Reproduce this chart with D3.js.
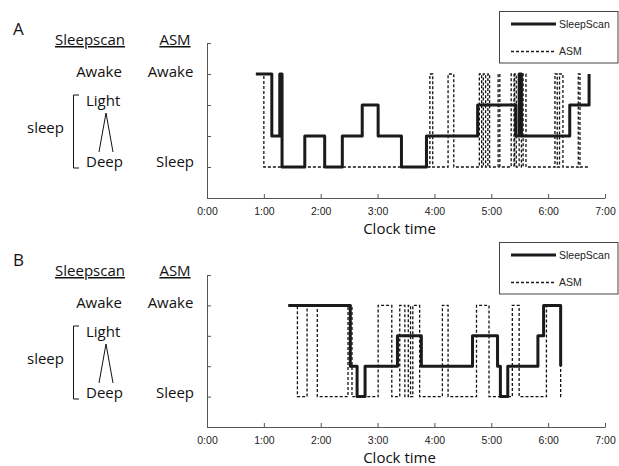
<!DOCTYPE html>
<html>
<head>
<meta charset="utf-8">
<script src="https://cdn.jsdelivr.net/npm/d3@7"></script>
<style>
	body { margin: 0; background: #fff; }
	svg { display: block; }
</style>
</head>
<body>
<div id="chart"></div>
<script>

// hours after 0:00, state level: 4 awake, 3 light, 2 lighter-deep, 1 deep / sleep
const hourTicks = ['0:00', '1:00', '2:00', '3:00', '4:00', '5:00', '6:00', '7:00'];
const stateTicks = [0, 1, 2, 3, 4, 5];

const sleepscanA = [[0.86, 4], [1.14, 2], [1.28, 4], [1.32, 1], [1.72, 2], [2.07, 1], [2.38, 2], [2.73, 3],
	[3.01, 2], [3.42, 1], [3.86, 2], [4.76, 3], [5.43, 2], [5.49, 4], [5.53, 2], [6.38, 3], [6.72, 4]];
const asmA = [[0.86, 4], [1.00, 1], [3.92, 4], [3.97, 1], [4.24, 4], [4.34, 1], [4.79, 4], [4.83, 1],
	[4.86, 4], [4.90, 1], [4.94, 4], [4.97, 1], [5.12, 4], [5.15, 1], [5.35, 4], [5.40, 1], [5.41, 4],
	[5.44, 1], [5.49, 4], [5.53, 1], [5.56, 4], [5.61, 1], [6.12, 4], [6.16, 1], [6.20, 4], [6.26, 1],
	[6.53, 4], [6.56, 1], [6.70, 1]];

const sleepscanB = [[1.43, 4], [2.52, 2], [2.64, 1], [2.78, 2], [3.35, 3], [3.77, 2], [4.67, 3], [5.11, 2],
	[5.16, 1], [5.29, 2], [5.82, 3], [5.92, 4], [6.22, 2]];
const asmB = [[1.43, 4], [1.59, 1], [1.76, 4], [1.94, 1], [2.48, 4], [2.55, 1], [3.01, 4], [3.25, 1],
	[3.39, 4], [3.48, 1], [3.54, 4], [3.58, 1], [3.62, 4], [3.74, 1], [4.14, 4], [4.24, 1], [4.74, 4],
	[4.96, 1], [5.37, 4], [5.49, 1], [5.97, 4], [6.22, 1], [6.23, 1]];

const legendNames = ['SleepScan', 'ASM'];

const panels = [
	{ name: 'A', top: 0, yRange: [198, 43], sleepscan: sleepscanA, asm: asmA },
	{ name: 'B', top: 231, yRange: [427, 275], sleepscan: sleepscanB, asm: asmB }
];

const svg = d3.select('#chart')
	.append('svg')
		.attr('width', 619)
		.attr('height', 466);

const x = d3.scaleLinear()
	.domain([0, 7])
	.range([207, 605]);

const labelFont = '"Open Sans", "Noto Sans", sans-serif';
const axisFont = '"Liberation Sans", Arial, sans-serif';

panels.forEach(function(p) {
	drawPanel(p);
});


function drawPanel(p) {

	let y = d3.scaleLinear()
		.domain([0, 5])
		.range(p.yRange);

	let g = svg.append('g');

	// axes
	let xAxis = d3.axisBottom(x)
		.tickValues(d3.range(0, 8))
		.tickFormat(function(i) { return hourTicks[i]; })
		.tickSizeInner(-4)
		.tickSizeOuter(0)
		.tickPadding(10);

	let yAxis = d3.axisLeft(y)
		.tickValues(stateTicks)
		.tickFormat('')
		.tickSizeInner(-4)
		.tickSizeOuter(0);

	let gx = g.append('g')
		.attr('transform', `translate(0, ${y(0)})`)
		.call(xAxis);

	let gy = g.append('g')
		.attr('transform', `translate(${x(0)}, 0)`)
		.call(yAxis);

	[gx, gy].forEach(function(a) {
		a.select('.domain').attr('stroke', '#555');
		a.selectAll('.tick line').attr('stroke', '#555');
	});

	gx.selectAll('.tick text')
		.attr('fill', '#222')
		.style('font-family', axisFont)
		.style('font-size', '10.5px');

	g.append('text')
		.attr('x', 399.5)
		.attr('y', y(0) + 35.5)
		.attr('text-anchor', 'middle')
		.style('font-family', labelFont)
		.style('font-size', '15px')
		.attr('fill', '#111')
		.text('Clock time');

	// hypnograms
	let line = d3.line()
		.x(function(d) { return x(d[0]); })
		.y(function(d) { return y(d[1]); })
		.curve(d3.curveStepAfter);

	g.append('path')
		.datum(p.asm)
		.attr('d', line)
		.attr('fill', 'none')
		.attr('stroke', '#111')
		.attr('stroke-width', 1.3)
		.attr('stroke-dasharray', '3,2');

	g.append('path')
		.datum(p.sleepscan)
		.attr('d', line)
		.attr('fill', 'none')
		.attr('stroke', '#1a1a1a')
		.attr('stroke-width', 3)
		.attr('stroke-linejoin', 'round');

	// legend
	let legend = g.append('g')
		.attr('transform', `translate(0, ${p.top})`);

	legend.append('rect')
		.attr('x', 499.5)
		.attr('y', 11.5)
		.attr('width', 118.5)
		.attr('height', 51.5)
		.attr('fill', '#fff')
		.attr('stroke', '#444')
		.attr('stroke-width', 1);

	for (let i = 0; i < 2; i++) {
		legend.append('line')
			.attr('x1', 511)
			.attr('x2', 556)
			.attr('y1', 24 + 27.5 * i)
			.attr('y2', 24 + 27.5 * i)
			.attr('stroke', '#1a1a1a')
			.attr('stroke-width', (i == 0) ? 3 : 1.3)
			.attr('stroke-dasharray', (i == 0) ? null : '3,2');

		legend.append('text')
			.attr('x', 559)
			.attr('y', 24 + 27.5 * i)
			.attr('dy', '0.35em')
			.style('font-family', axisFont)
			.style('font-size', '10.5px')
			.attr('fill', '#222')
			.text(legendNames[i]);
	}

	drawKey(p);
}


function drawKey(p) {

	let k = svg.append('g')
		.attr('transform', `translate(0, ${p.top})`)
		.style('font-family', labelFont)
		.attr('fill', '#111');

	k.append('text')
		.attr('x', 13)
		.attr('y', 35)
		.style('font-size', '17px')
		.text(p.name);

	k.append('text')
		.attr('x', 90)
		.attr('y', 45)
		.attr('text-anchor', 'middle')
		.style('font-size', '15px')
		.style('text-decoration', 'underline')
		.text('Sleepscan');

	k.append('text')
		.attr('x', 175)
		.attr('y', 45)
		.attr('text-anchor', 'middle')
		.style('font-size', '15px')
		.style('text-decoration', 'underline')
		.text('ASM');

	let rows = [
		['Awake', 99, 77, 'middle'],
		['Awake', 170.5, 77, 'middle'],
		['Light', 86, 106, 'start'],
		['sleep', 27, 133, 'start'],
		['Deep', 86, 167, 'start'],
		['Sleep', 156, 167, 'start']
	];

	rows.forEach(function(r) {
		k.append('text')
			.attr('x', r[1])
			.attr('y', r[2])
			.attr('text-anchor', r[3])
			.style('font-size', '15px')
			.text(r[0]);
	});

	// bracket and the light/deep wedge
	k.append('path')
		.attr('d', 'M79,95 H73.5 V168 H79')
		.attr('fill', 'none')
		.attr('stroke', '#111')
		.attr('stroke-width', 1);

	k.append('path')
		.attr('d', 'M99,152 L106,113 L113,152')
		.attr('fill', 'none')
		.attr('stroke', '#111')
		.attr('stroke-width', 1);
}

</script>
</body>
</html>
